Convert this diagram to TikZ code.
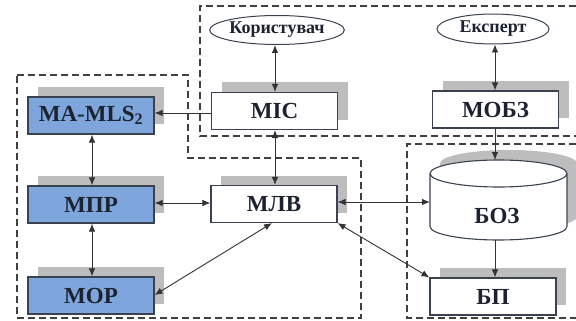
\documentclass[tikz,border=0pt]{standalone}
\usepackage{fontspec}
\setmainfont{Liberation Serif}
\usetikzlibrary{arrows.meta,shadows,calc,shapes.geometric}
\definecolor{boxblue}{HTML}{7EA6DC}
\definecolor{shgray}{HTML}{BDBDBD}
\definecolor{edge}{HTML}{3A4250}
\definecolor{txt}{HTML}{1C2230}
\begin{document}
\begin{tikzpicture}[x=1pt,y=-1pt,
  box/.style={draw=edge,line width=1.1pt,fill=white,minimum width=126pt,minimum height=37pt,inner sep=0pt,
    text=txt,font=\fontsize{23}{25}\selectfont\bfseries,
    general shadow={fill=shgray,shadow xshift=10pt,shadow yshift=10pt}},
  bbox/.style={box,fill=boxblue},
  ell/.style={draw=edge,line width=1pt,ellipse,fill=white,inner sep=0pt,text=txt,font=\fontsize{18}{20}\selectfont\bfseries},
  region/.style={draw=black!75,line width=1.1pt,dash pattern=on 7pt off 4pt},
  conn/.style={draw=black!80,line width=0.9pt},
  bi/.style={conn,{Latex[length=8pt,width=6.5pt]}-{Latex[length=8pt,width=6.5pt]}},
  uni/.style={conn,-{Latex[length=8pt,width=6.5pt]}}
]
\useasboundingbox (0,0) rectangle (576,321);
% dashed regions
\draw[region] (576,6) -- (200,6) -- (200,136) -- (576,136);
\draw[region] (17,75) -- (188,75) -- (188,158) -- (361,158) -- (361,318) -- (17,318) -- cycle;
\draw[region] (576,144) -- (407,144) -- (407,318) -- (576,318);
% nodes
\node[bbox] (mamls) at (91,115.5) {MA-MLS\textsubscript{2}};
\node[bbox] (mpr) at (91,204.5) {МПР};
\node[bbox] (mor) at (91,295.5) {МОР};
\node[box] (mic) at (274.5,111) {МІС};
\node[box] (mlv) at (274,204) {МЛВ};
\node[box] (mobz) at (495.5,109.5) {МОБЗ};
\node[box] (bp) at (493,296.5) {БП};
\node[ell,minimum width=133pt,minimum height=29pt] (kor) at (277,30) {Користувач};
\node[ell,minimum width=112pt,minimum height=30pt] (exp) at (493,29) {Експерт};
% cylinder
\fill[shgray] (440,163.5) -- (440,216.5) arc[start angle=180,end angle=360,x radius=68.5,y radius=-13.5] -- (577,163.5) arc[start angle=0,end angle=180,x radius=68.5,y radius=-13.5] -- cycle;
\draw[edge,line width=1.1pt,fill=white] (430,173.5) -- (430,226.5) arc[start angle=180,end angle=360,x radius=68.5,y radius=-13.5] -- (567,173.5) arc[start angle=0,end angle=180,x radius=68.5,y radius=-13.5] -- cycle;
\draw[edge,line width=1.1pt] (430,173.5) arc[start angle=180,end angle=360,x radius=68.5,y radius=-13.5];
\node[inner sep=0pt,text=txt,font=\fontsize{23}{25}\selectfont\bfseries] (boz) at (497,216) {БОЗ};
\coordinate (boztop) at (495,160);
\coordinate (bozbot) at (495,240);
\coordinate (bozleft) at (430,202);
% connectors
\draw[bi] (mic.north -| 275,0) -- (kor.south -| 275,0);
\draw[bi] (mobz.north -| 495,0) -- (exp.south -| 495,0);
\draw[uni] (mic.west |- 0,113) -- (mamls.east |- 0,113);
\draw[bi] (mic.south -| 275,0) -- (mlv.north -| 275,0);
\draw[uni] (mobz.south -| 495,0) -- (boztop);
\draw[bi] (mamls.south -| 92,0) -- (mpr.north -| 92,0);
\draw[bi] (mpr.south -| 92,0) -- (mor.north -| 92,0);
\draw[bi] (mpr.east |- 0,203) -- (mlv.west |- 0,203);
\draw[bi] (mor.east |- 0,295) -- (mlv.south -| 272,0);
\draw[bi] (mlv.east |- 0,202) -- (bozleft);
\draw[bi] (mlv.south east) -- (bp.north west);
\draw[uni] (bozbot) -- (bp.north -| 495,0);
\end{tikzpicture}
\end{document}
